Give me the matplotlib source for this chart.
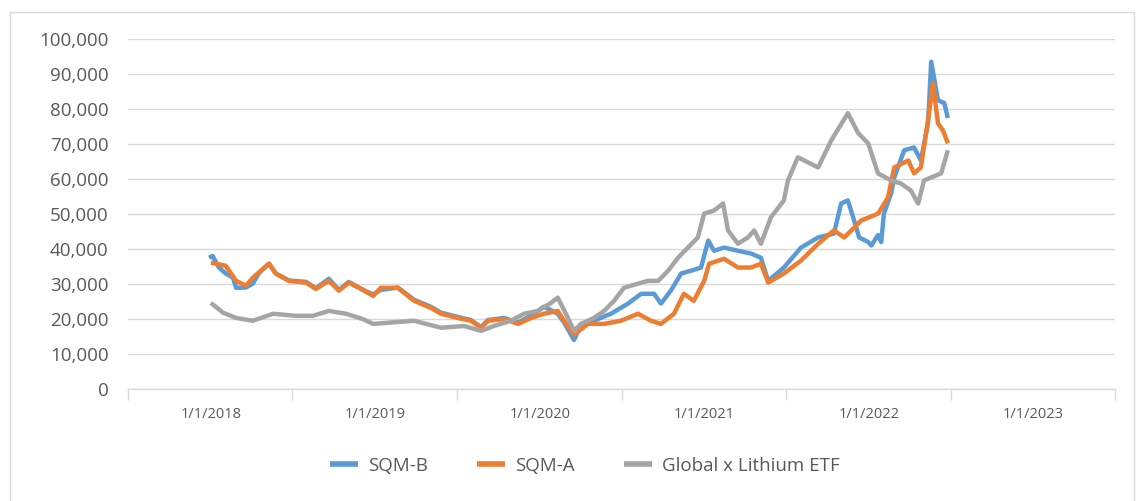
import matplotlib
matplotlib.use("Agg")
import matplotlib.pyplot as plt
import matplotlib.patches as mpatches
import pandas as pd

plt.rcParams['font.family'] = ['Open Sans', 'DejaVu Sans']

sqm_b_dates = ["2017-12-28", "2018-01-05", "2018-01-19", "2018-02-03", "2018-02-19", "2018-02-26",
               "2018-03-20", "2018-04-04", "2018-04-18", "2018-05-10", "2018-05-25", "2018-06-23",
               "2018-07-31", "2018-08-22", "2018-09-20", "2018-10-12", "2018-11-03", "2018-11-26",
               "2018-12-27", "2019-01-13", "2019-02-20", "2019-03-28", "2019-05-04", "2019-05-27",
               "2019-07-03", "2019-08-01", "2019-08-24", "2019-09-08", "2019-10-14", "2019-11-14",
               "2019-12-13", "2020-01-10", "2020-01-26", "2020-02-10", "2020-02-24", "2020-03-17",
               "2020-04-02", "2020-04-30", "2020-06-07", "2020-07-15", "2020-08-13", "2020-09-11",
               "2020-09-26", "2020-10-18", "2020-11-10", "2020-12-02", "2020-12-24", "2021-01-09",
               "2021-01-22", "2021-02-13", "2021-03-16", "2021-04-14", "2021-05-06", "2021-05-22",
               "2021-06-26", "2021-08-03", "2021-09-10", "2021-10-15", "2021-10-31", "2021-11-15",
               "2021-11-29", "2021-12-10", "2021-12-30", "2022-01-06", "2022-01-21", "2022-01-28",
               "2022-02-03", "2022-02-19", "2022-02-26", "2022-03-20", "2022-04-11", "2022-04-26",
               "2022-05-12", "2022-05-19", "2022-06-03", "2022-06-17", "2022-06-25"]
sqm_b_values = [37500, 38000, 34700, 33000, 31800, 28900,
                29000, 30100, 33200, 35800, 33000, 31000,
                30600, 28800, 31500, 28300, 30600, 28900,
                27000, 28300, 29000, 25500, 23500, 21800,
                20600, 19700, 17700, 19700, 20300, 19000,
                21000, 23500, 22500, 21500, 19000, 14000,
                18600, 19500, 21500, 24400, 27200, 27200,
                24400, 28100, 33000, 33800, 34700, 42400,
                39500, 40400, 39500, 38700, 37500, 30900,
                34700, 40400, 43300, 44400, 53000, 53900,
                48100, 43300, 42000, 41000, 44000, 42000,
                50100, 55900, 60500, 68200, 69000, 65300,
                76000, 93500, 82500, 81700, 77400]

sqm_a_dates = ["2018-01-01", "2018-02-03", "2018-02-26", "2018-03-20", "2018-04-04", "2018-05-10",
               "2018-05-25", "2018-06-23", "2018-07-31", "2018-08-22", "2018-09-20", "2018-10-12",
               "2018-11-03", "2018-11-26", "2018-12-27", "2019-01-13", "2019-02-20", "2019-03-28",
               "2019-05-04", "2019-05-27", "2019-07-03", "2019-08-01", "2019-08-24", "2019-09-08",
               "2019-10-14", "2019-11-14", "2019-12-13", "2020-01-10", "2020-02-10", "2020-02-24",
               "2020-03-17", "2020-04-17", "2020-05-23", "2020-06-29", "2020-08-06", "2020-09-04",
               "2020-09-26", "2020-10-25", "2020-11-16", "2020-12-08", "2020-12-31", "2021-01-11",
               "2021-02-13", "2021-03-16", "2021-04-14", "2021-05-06", "2021-05-22", "2021-06-26",
               "2021-08-03", "2021-09-10", "2021-10-15", "2021-11-07", "2021-11-29", "2021-12-14",
               "2022-01-21", "2022-02-12", "2022-02-26", "2022-03-29", "2022-04-11", "2022-04-26",
               "2022-05-12", "2022-05-23", "2022-06-03", "2022-06-14", "2022-06-25"]
sqm_a_values = [36100, 35200, 30900, 29500, 31800, 35800,
                33000, 30900, 30400, 28600, 30900, 28100,
                30400, 28900, 26600, 28900, 28900, 25200,
                23200, 21500, 20300, 19500, 17500, 19500,
                20000, 18600, 20300, 21500, 22300, 19500,
                15500, 18600, 18600, 19500, 21500, 19500,
                18600, 21500, 27200, 25200, 30900, 35800,
                37200, 34700, 34700, 35800, 30400, 33000,
                36700, 41500, 45300, 43300, 46100, 48100,
                50100, 54700, 63300, 65300, 61600, 63300,
                76800, 87400, 75900, 73900, 70200]

etf_dates = ["2018-01-01", "2018-01-28", "2018-02-26", "2018-04-04", "2018-05-19", "2018-07-09",
             "2018-08-15", "2018-09-20", "2018-10-28", "2018-12-04", "2018-12-27", "2019-03-28",
             "2019-05-27", "2019-07-17", "2019-08-24", "2019-09-21", "2019-10-29", "2019-11-27",
             "2019-12-28", "2020-01-26", "2020-02-10", "2020-03-01", "2020-03-17", "2020-04-02",
             "2020-04-30", "2020-05-23", "2020-06-14", "2020-07-06", "2020-08-06", "2020-08-28",
             "2020-09-20", "2020-10-12", "2020-11-03", "2020-11-25", "2020-12-17", "2020-12-31",
             "2021-01-22", "2021-02-11", "2021-02-22", "2021-03-16", "2021-04-07", "2021-04-21",
             "2021-05-06", "2021-05-28", "2021-06-26", "2021-07-05", "2021-07-27", "2021-09-10",
             "2021-10-09", "2021-11-15", "2021-12-08", "2021-12-30", "2022-01-21", "2022-02-19",
             "2022-03-13", "2022-04-04", "2022-04-20", "2022-05-03", "2022-06-10", "2022-06-25"]
etf_values = [24600, 21800, 20300, 19500, 21500, 20900,
              20900, 22300, 21500, 20000, 18600, 19500,
              17500, 18000, 16600, 18000, 19500, 21500,
              22300, 24600, 26100, 21000, 16600, 18600,
              20300, 22300, 25200, 28900, 30100, 30900,
              30900, 33800, 37500, 40400, 43300, 50100,
              51000, 53000, 45300, 41500, 43300, 45300,
              41500, 49000, 53900, 59600, 66200, 63300,
              71000, 78800, 73100, 70200, 61600, 59600,
              58700, 56700, 53000, 59600, 61600, 68200]

series_names = ["SQM-B", "SQM-A", "Global x Lithium ETF"]
year_labels = ["1/1/2018", "1/1/2019", "1/1/2020", "1/1/2021", "1/1/2022", "1/1/2023"]

colors = ["#5B9BD5", "#ED7D31", "#A5A5A5"]
text_color = "#595959"
grid_color = "#D9D9D9"

W, H = 1136, 501
fig = plt.figure(figsize=(W / 100, H / 100), dpi=100)
fig.patch.set_facecolor("white")

# chart area border
fig.add_artist(mpatches.Rectangle((10 / W, -0.01), (1134 - 10) / W, 1 - 12 / H + 0.01,
                                  transform=fig.transFigure, fill=False,
                                  edgecolor="#D9D9D9", linewidth=1))

left, right, top, bottom = 128, 1115, 39, 389
ax = fig.add_axes([left / W, 1 - bottom / H, (right - left) / W, (bottom - top) / H])

data = [(sqm_b_dates, sqm_b_values), (sqm_a_dates, sqm_a_values), (etf_dates, etf_values)]
handles = []
for i, (d, v) in enumerate(data):
    h, = ax.plot(pd.to_datetime(d), v, color=colors[i], linewidth=3.2,
                 solid_joinstyle="round", solid_capstyle="butt", label=series_names[i])
    handles.append(h)

ax.set_ylim(0, 100000)
ax.set_yticks(range(0, 100001, 10000))
ax.set_yticklabels([f"{v:,}" for v in range(0, 100001, 10000)])
ax.set_xlim(pd.Timestamp("2017-07-01"), pd.Timestamp("2023-07-01"))

year_ticks = pd.to_datetime(["2018-01-01", "2019-01-01", "2020-01-01",
                             "2021-01-01", "2022-01-01", "2023-01-01"])
ax.set_xticks(year_ticks)
ax.set_xticklabels(year_labels)
minor_ticks = pd.to_datetime(["2017-07-01", "2018-07-01", "2019-07-01", "2020-07-01",
                              "2021-07-01", "2022-07-01", "2023-07-01"])
ax.set_xticks(minor_ticks, minor=True)

ax.tick_params(axis="x", which="major", length=0, pad=13, labelsize=10.5, labelcolor=text_color)
ax.tick_params(axis="x", which="minor", length=8, width=1, color=grid_color, direction="out")
ax.tick_params(axis="y", length=0, pad=14, labelsize=13.5, labelcolor=text_color)

ax.grid(axis="y", color=grid_color, linewidth=1)
ax.set_axisbelow(True)
for s in ["top", "right", "left"]:
    ax.spines[s].set_visible(False)
ax.spines["bottom"].set_color(grid_color)
ax.spines["bottom"].set_linewidth(1)

leg = fig.legend(handles, series_names,
                 loc="center", bbox_to_anchor=(585 / W, 1 - 466 / H), ncol=3,
                 frameon=False, fontsize=13.5, handlelength=1.5, handletextpad=0.55,
                 columnspacing=2.6)
for t in leg.get_texts():
    t.set_color(text_color)
for lh in leg.get_lines():
    lh.set_linewidth(4)

fig.savefig("out.png", dpi=100, facecolor="white")
